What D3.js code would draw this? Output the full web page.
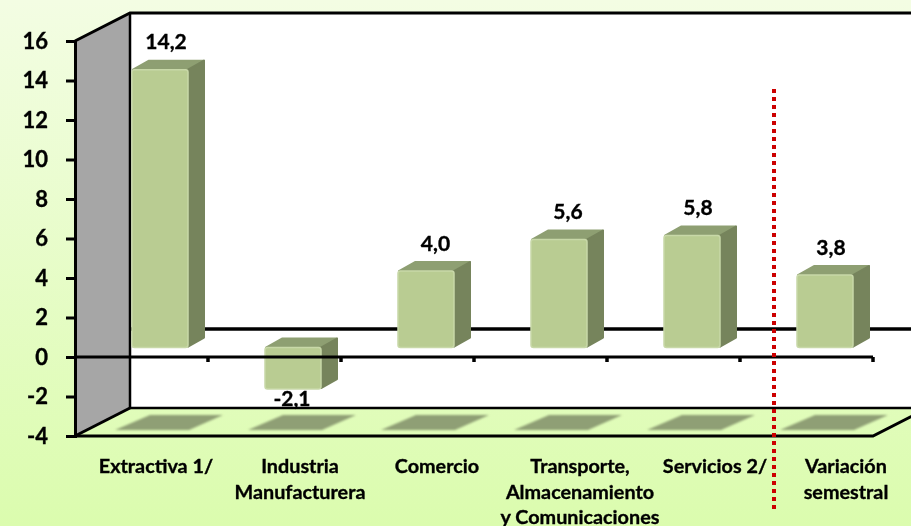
<!DOCTYPE html>
<html lang="en">
<head>
<meta charset="UTF-8">
<title>Variación semestral por sector</title>
<style>
  html, body { margin: 0; padding: 0; background: #e8fcc8; }
  svg { display: block; filter: blur(0.4px); }
  text { font-family: Lato, "Liberation Sans", sans-serif; font-weight: 700; fill: #000; stroke: #000; stroke-width: 0.35px; }
</style>
</head>
<body>
<svg width="911" height="526"></svg>
<script src="https://d3js.org/d3.v7.min.js"></script>
<script>
// data
var categories = ["Extractiva 1/", "Industria Manufacturera", "Comercio", "Transporte, Almacenamiento y Comunicaciones", "Servicios 2/", "Variación semestral"];
var categoryLines = [["Extractiva 1/"], ["Industria", "Manufacturera"], ["Comercio"], ["Transporte,", "Almacenamiento", "y Comunicaciones"], ["Servicios 2/"], ["Variación", "semestral"]];
var values = [14.2, -2.1, 4.0, 5.6, 5.8, 3.8];
var valueLabels = ["14,2", "-2,1", "4,0", "5,6", "5,8", "3,8"];
var yTicks = [-4, -2, 0, 2, 4, 6, 8, 10, 12, 14, 16];

// the labels were placed by hand in the original, not centred on the bands
var labelShift = [14.5, 25.5, 29.5, 39.5, 41.5, 39.5];
var valueShift = [6, -1, 9.5, 9, 6, 6];

var svg = d3.select("svg");
var width = +svg.attr("width"), height = +svg.attr("height");

var x = d3.scaleBand().domain(categories).range([75, 873]);
var y = d3.scaleLinear().domain([-4, 16]).range([436, 41]);

// oblique projection of the 3D box
var depthX = 55, depthY = -28;
var barW = 56, barDX = 18.5, barDY = -9.4, sideX = 17, sideY = -10, topInset = 2.5;

var defs = svg.append("defs");
var bg = defs.append("linearGradient").attr("id", "bg").attr("x1", 0).attr("y1", 0).attr("x2", 0).attr("y2", 1);
bg.append("stop").attr("offset", "0%").attr("stop-color", "#f3fde3");
bg.append("stop").attr("offset", "100%").attr("stop-color", "#dbfcae");

defs.append("filter").attr("id", "soft").attr("x", "-10%").attr("y", "-20%").attr("width", "120%").attr("height", "140%")
  .append("feGaussianBlur").attr("stdDeviation", 1.2);

svg.append("rect").attr("width", width).attr("height", height).attr("fill", "url(#bg)");

var x0 = x.range()[0], x1 = x.range()[1];
var yTop = y(16), yBot = y(-4), yZero = y(0);

// back wall, side wall
svg.append("rect")
  .attr("x", x0 + depthX).attr("y", yTop + depthY)
  .attr("width", width - x0 - depthX).attr("height", yBot - yTop)
  .attr("fill", "#fff");

svg.append("polygon")
  .attr("points", [[x0, yTop], [x0 + depthX, yTop + depthY], [x0 + depthX, yBot + depthY], [x0, yBot]].join(" "))
  .attr("fill", "#a6a6a6");

var line = d3.line();
function stroke(pts, w) {
  svg.append("path").attr("d", line(pts)).attr("fill", "none").attr("stroke", "#000").attr("stroke-width", w);
}

// box outlines
stroke([[x0, yTop], [x0 + depthX, yTop + depthY], [width, yTop + depthY]], 3);
stroke([[x0 + depthX, yTop + depthY], [x0 + depthX, yBot + depthY], [width, yBot + depthY]], 2.5);
stroke([[x0, yBot], [x0 + depthX, yBot + depthY]], 3);
stroke([[x0, yBot], [x1, yBot], [x1 + depthX, yBot + depthY]], 3);

// zero line on the back wall
stroke([[x0 + depthX, yZero + depthY], [width, yZero + depthY]], 3.5);

// floor shadows
svg.append("g").selectAll("polygon").data(categories).enter().append("polygon")
  .attr("points", function(d) {
    var l = x(d) + 40;
    return [[l, 430], [l + 74, 430], [l + 108, 415], [l + 35, 415]].join(" ");
  })
  .attr("fill", "#8f9f75")
  .attr("filter", "url(#soft)");

// value axis
var yAxis = svg.append("g")
  .attr("transform", "translate(" + x0 + ",0)")
  .call(d3.axisLeft(y).tickValues(yTicks).tickSize(9).tickPadding(18).tickFormat(function(d) { return String(d); }));
yAxis.select(".domain").attr("stroke", "#000").attr("stroke-width", 3);
yAxis.selectAll(".tick line").attr("stroke", "#000").attr("stroke-width", 3);
yAxis.selectAll(".tick text").attr("font-size", 22).style("font-family", "Lato").style("font-weight", 700);

// bars
var bars = svg.append("g").selectAll("g").data(values).enter().append("g");

function barLeft(i) { return x(categories[i]) + x.bandwidth() / 2 - barW / 2 + barDX; }
function barTop(d) { return d > 0 ? y(d) + barDY + topInset : y(0) + barDY; }
function barBottom(d) { return y(Math.min(d, 0)) + barDY; }

bars.append("polygon")
  .attr("fill", "#8e9f72").attr("stroke", "#8e9f72").attr("stroke-width", 2).attr("stroke-linejoin", "round")
  .attr("points", function(d, i) {
    var l = barLeft(i), t = barTop(d);
    return [[l + 1, t], [l + barW, t], [l + barW + sideX - 1, t + sideY + 1], [l + sideX, t + sideY + 1]].join(" ");
  });
bars.append("polygon")
  .attr("fill", "#76845c").attr("stroke", "#76845c").attr("stroke-width", 2).attr("stroke-linejoin", "round")
  .attr("points", function(d, i) {
    var r = barLeft(i) + barW, t = barTop(d), b = barBottom(d);
    return [[r, t], [r + sideX - 1, t + sideY + 1], [r + sideX - 1, b + sideY], [r, b - 1]].join(" ");
  });
bars.append("rect")
  .attr("fill", "#b9cc92").attr("stroke", "#c8d8a8").attr("stroke-width", 1.5).attr("rx", 2.5)
  .attr("x", function(d, i) { return barLeft(i); })
  .attr("y", barTop)
  .attr("width", barW)
  .attr("height", function(d) { return barBottom(d) - barTop(d); });

// front zero line and category ticks run over the bars
stroke([[x0, yZero], [x1, yZero]], 3);
svg.append("g").selectAll("line").data(categories).enter().append("line")
  .attr("x1", function(d) { return x(d) + x.bandwidth(); })
  .attr("x2", function(d) { return x(d) + x.bandwidth(); })
  .attr("y1", yZero).attr("y2", yZero + 5)
  .attr("stroke", "#000").attr("stroke-width", 3.5);

// value labels
svg.append("g").selectAll("text").data(values).enter().append("text")
  .attr("text-anchor", "middle")
  .attr("font-size", 21)
  .attr("x", function(d, i) { return barLeft(i) + barW / 2 + valueShift[i]; })
  .attr("y", function(d) { return d < 0 ? barBottom(d) + 17 : barTop(d) - 20.5; })
  .text(function(d, i) { return valueLabels[i]; });

// category labels
var catLabels = svg.append("g").selectAll("text").data(categoryLines).enter().append("text")
  .attr("text-anchor", "middle")
  .attr("font-size", 19.8);
catLabels.selectAll("tspan").data(function(d, i) { return d.map(function(t) { return { t: t, i: i }; }); })
  .enter().append("tspan")
  .attr("x", function(d) { return x(categories[d.i]) + x.bandwidth() / 2 + labelShift[d.i]; })
  .attr("y", function(d, j) { return 473 + j * 25.5; })
  .text(function(d) { return d.t; });

// separator before the semester column
svg.append("line")
  .attr("x1", 774).attr("x2", 774).attr("y1", 89).attr("y2", 510)
  .attr("stroke", "#cc0000").attr("stroke-width", 4).attr("stroke-dasharray", "4 4");
</script>
</body>
</html>
